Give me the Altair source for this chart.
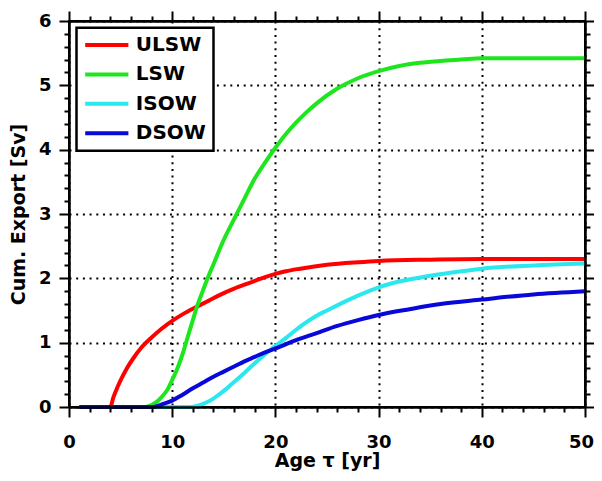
import altair as alt
import pandas as pd

FONT = "DejaVu Sans"

series_names = ["ULSW", "LSW", "ISOW", "DSOW"]
series_colors = ["#ff0000", "#1ee61e", "#2ae8ee", "#0808d8"]

ulsw_age = [1, 4.0, 4.3, 4.7, 5.2, 5.6, 6.2, 7, 8, 9, 10, 11, 12.4, 13.5, 15, 16, 17.5, 19, 20, 21, 22.4, 25, 28, 30, 35, 40, 45, 50]
ulsw_val = [0, 0, 0.15, 0.31, 0.48, 0.6, 0.75, 0.92, 1.08, 1.22, 1.34, 1.44, 1.56, 1.65, 1.77, 1.84, 1.93, 2.02, 2.07, 2.11, 2.15, 2.21, 2.25, 2.27, 2.29, 2.3, 2.3, 2.3]

lsw_age = [1, 7.4, 8, 8.5, 9, 9.5, 10, 10.5, 11, 11.6, 12, 12.4, 13, 13.5, 14, 15, 16, 17, 18, 19, 20, 21, 22, 23, 24, 26, 28, 30, 32, 34, 36, 38, 40, 45, 50]
lsw_val = [0, 0, 0.03, 0.08, 0.16, 0.26, 0.42, 0.6, 0.82, 1.14, 1.35, 1.56, 1.82, 2.03, 2.22, 2.6, 2.92, 3.24, 3.55, 3.8, 4.03, 4.24, 4.42, 4.58, 4.72, 4.95, 5.11, 5.22, 5.3, 5.35, 5.38, 5.4, 5.42, 5.42, 5.42]

isow_age = [1, 11.75, 12.5, 13, 13.7, 14.5, 15.3, 16, 17, 18, 19, 20, 21, 22.4, 24, 25, 26, 28, 30, 32, 35, 38, 40, 45, 50]
isow_val = [0, 0, 0.02, 0.05, 0.1, 0.19, 0.29, 0.39, 0.53, 0.68, 0.82, 0.95, 1.07, 1.25, 1.42, 1.5, 1.58, 1.73, 1.86, 1.95, 2.04, 2.11, 2.15, 2.2, 2.23]

dsow_age = [1, 8.2, 9, 10, 11, 12, 13, 14, 15, 16, 17, 18, 19, 20, 22, 24, 26, 28, 30, 33, 36, 40, 45, 50]
dsow_val = [0, 0, 0.04, 0.1, 0.19, 0.29, 0.38, 0.47, 0.55, 0.63, 0.71, 0.78, 0.85, 0.91, 1.04, 1.15, 1.26, 1.35, 1.43, 1.52, 1.6, 1.67, 1.75, 1.8]

x_major = [0, 10, 20, 30, 40, 50]
x_last = [50]
x_minor = [2, 4, 6, 8, 12, 14, 16, 18, 22, 24, 26, 28, 32, 34, 36, 38, 42, 44, 46, 48]
y_major = [0, 1, 2, 3, 4, 5, 6]
y_minor = [0.2, 0.4, 0.6, 0.8, 1.2, 1.4, 1.6, 1.8, 2.2, 2.4, 2.6, 2.8, 3.2, 3.4, 3.6, 3.8,
           4.2, 4.4, 4.6, 4.8, 5.2, 5.4, 5.6, 5.8]

rows = []
for name, ages, vals in [("ULSW", ulsw_age, ulsw_val), ("LSW", lsw_age, lsw_val),
                         ("ISOW", isow_age, isow_val), ("DSOW", dsow_age, dsow_val)]:
    for a, v in zip(ages, vals):
        rows.append({"series": name, "age": a, "export": v})
df = pd.DataFrame(rows)

xscale = alt.Scale(domain=[0, 50], nice=False, zero=False)
yscale = alt.Scale(domain=[0, 6], nice=False, zero=False)

label_common = dict(labelFont=FONT, labelFontWeight="bold", labelFontSize=18,
                    labelColor="black", labelFlush=False, labelOverlap=False)
grid_common = dict(grid=True, gridColor="black", gridDash=[2, 4.7], gridWidth=2,
                   gridOpacity=1, ticks=False, domain=False, zindex=0)


def tick_axis(orient, values, size):
    return alt.Axis(orient=orient, values=values, tickSize=size, labels=False,
                    domain=True, domainColor="black", domainWidth=2,
                    grid=False, title=None, ticks=True,
                    tickColor="black", tickWidth=2, tickOpacity=1, zindex=2)


base = alt.Chart(df)

lines = base.mark_line(strokeWidth=4, interpolate="monotone").encode(
    x=alt.X("age:Q", scale=xscale,
            axis=alt.Axis(orient="bottom", values=x_major,
                          labelExpr="datum.value == 50 ? '' : datum.label",
                          labelPadding=26, **label_common,
                          title="Age τ [yr]", titleFont=FONT, titleFontWeight="bold",
                          titleFontSize=19, titleColor="black", titlePadding=0,
                          **grid_common)),
    y=alt.Y("export:Q", scale=yscale,
            axis=alt.Axis(orient="left", values=y_major,
                          labelPadding=18, **label_common,
                          title="Cum. Export [Sv]", titleFont=FONT, titleFontWeight="bold",
                          titleFontSize=19, titleColor="black", titlePadding=10,
                          **grid_common)),
    color=alt.Color("series:N", scale=alt.Scale(domain=series_names, range=series_colors),
                    legend=alt.Legend(title=None, orient="none", legendX=7.5, legendY=6.7,
                                      direction="vertical", symbolType="M-2.7,0H2.7",
                                      symbolSize=256, symbolStrokeWidth=4, symbolOffset=13,
                                      labelFont=FONT, labelFontWeight="bold",
                                      labelFontSize=20, labelColor="black", labelOffset=19,
                                      labelLimit=300, rowPadding=9.4, padding=7.3,
                                      strokeColor="black", fillColor="white")),
)

major_bl = base.mark_line(opacity=0).encode(
    x=alt.X("age:Q", scale=xscale, axis=tick_axis("bottom", x_major, 10)),
    y=alt.Y("export:Q", scale=yscale, axis=tick_axis("left", y_major, 10)),
)

minor_bl = base.mark_line(opacity=0).encode(
    x=alt.X("age:Q", scale=xscale, axis=tick_axis("bottom", x_minor, 5)),
    y=alt.Y("export:Q", scale=yscale, axis=tick_axis("left", y_minor, 5)),
)

major_tr = base.mark_line(opacity=0).encode(
    x=alt.X("age:Q", scale=xscale, axis=tick_axis("top", x_major, 10)),
    y=alt.Y("export:Q", scale=yscale, axis=tick_axis("right", y_major, 10)),
)

minor_tr = base.mark_line(opacity=0).encode(
    x=alt.X("age:Q", scale=xscale, axis=tick_axis("top", x_minor, 5)),
    y=alt.Y("export:Q", scale=yscale, axis=tick_axis("right", y_minor, 5)),
)

last_label = base.mark_line(opacity=0).encode(
    x=alt.X("age:Q", scale=xscale,
            axis=alt.Axis(orient="bottom", values=x_last, ticks=False, domain=False,
                          grid=False, title=None, labelPadding=26, labelOffset=-4,
                          **label_common)),
    y=alt.Y("export:Q", scale=yscale, axis=None),
)

chart = alt.layer(lines, major_bl, minor_bl, major_tr, minor_tr, last_label).resolve_axis(
    x="independent", y="independent"
).properties(
    width=516, height=386,
    autosize=alt.AutoSizeParams(type="none"),
    padding={"left": 61, "top": 13, "right": 9, "bottom": 66},
    background="white",
).configure_view(stroke="black", strokeWidth=2).configure_legend(strokeWidth=2.5)

chart.save("out.html", embed_options={"renderer": "svg", "actions": False})
